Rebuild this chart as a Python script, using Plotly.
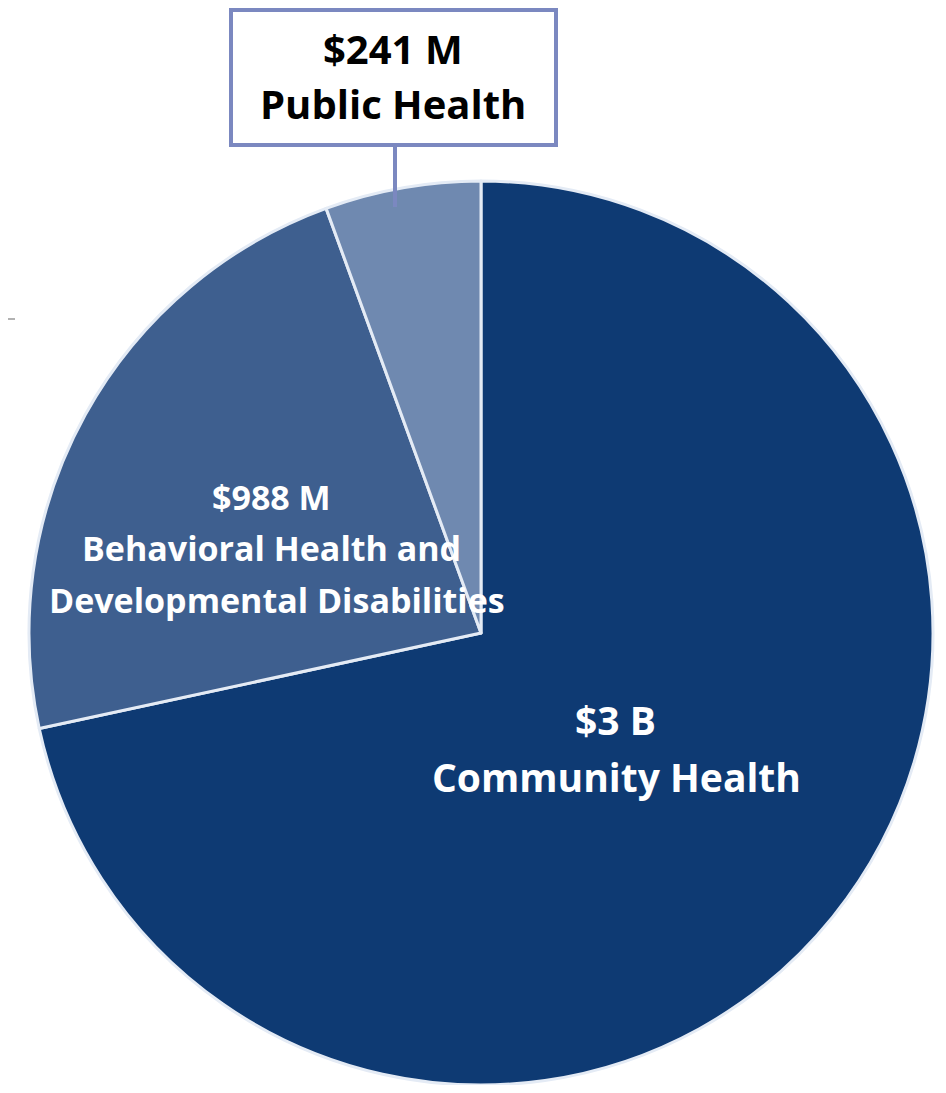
import plotly.graph_objects as go

# page body has an 8px margin; figure is sized to fit the window
OFF = 8
W, H = 946 - 2 * OFF, 1093 - 2 * OFF

categories = ["Community Health", "Behavioral Health and Developmental Disabilities", "Public Health"]
values = [3100, 988, 241]
value_labels = ["$3 B", "$988 M", "$241 M"]
colors = ["#0e3a73", "#3e5f8f", "#6f89b0"]


def px(x):
    return (x - OFF) / W


def py(y):
    return 1 - (y - OFF) / H


def clamp(v):
    return min(1.0, max(0.0, v))


cx, cy, r = 481, 633, 452

fig = go.Figure(go.Pie(
    labels=categories,
    values=values,
    sort=False,
    direction="clockwise",
    rotation=0,
    textinfo="none",
    hoverinfo="label+value",
    marker=dict(colors=colors, line=dict(color="#e4ebf5", width=3)),
    domain=dict(x=[clamp(px(cx - r)), clamp(px(cx + r))],
                y=[clamp(py(cy + r)), clamp(py(cy - r))]),
    showlegend=False,
))

FONT = "Open Sans"
annotations = []


def add_text(text, x, y, size, color):
    annotations.append(dict(
        text=f"<b>{text}</b>", x=px(x), y=py(y), xref="paper", yref="paper",
        xanchor="center", yanchor="middle", showarrow=False,
        font=dict(family=FONT, size=size, color=color),
    ))


# Community Health
add_text(value_labels[0], 615, 719, 39, "white")
add_text("Community Health", 616, 776, 39, "white")
# Behavioral
add_text(value_labels[1], 271, 497, 34, "white")
add_text("Behavioral Health and", 271, 548, 34, "white")
add_text("Developmental Disabilities", 277, 600, 34, "white")
# Public Health box
add_text(value_labels[2], 393, 48, 40, "black")
add_text("Public Health", 393, 104, 40, "black")

shapes = [
    dict(type="line", xref="paper", yref="paper", x0=px(395), x1=px(395), y0=py(145), y1=py(207),
         line=dict(color="#7b88c0", width=4), layer="above"),
    dict(type="rect", xref="paper", yref="paper", x0=px(231), x1=px(556), y0=py(145), y1=py(10),
         line=dict(color="#7b88c0", width=4), fillcolor="white", layer="above"),
    dict(type="line", xref="paper", yref="paper", x0=px(8), x1=px(15), y0=py(319), y1=py(319),
         line=dict(color="#999999", width=1.5)),
]

fig.update_layout(
    width=W, height=H,
    margin=dict(l=0, r=0, t=0, b=0),
    paper_bgcolor="white",
    plot_bgcolor="white",
    annotations=annotations,
    shapes=shapes,
)

fig.write_html("out.html")
